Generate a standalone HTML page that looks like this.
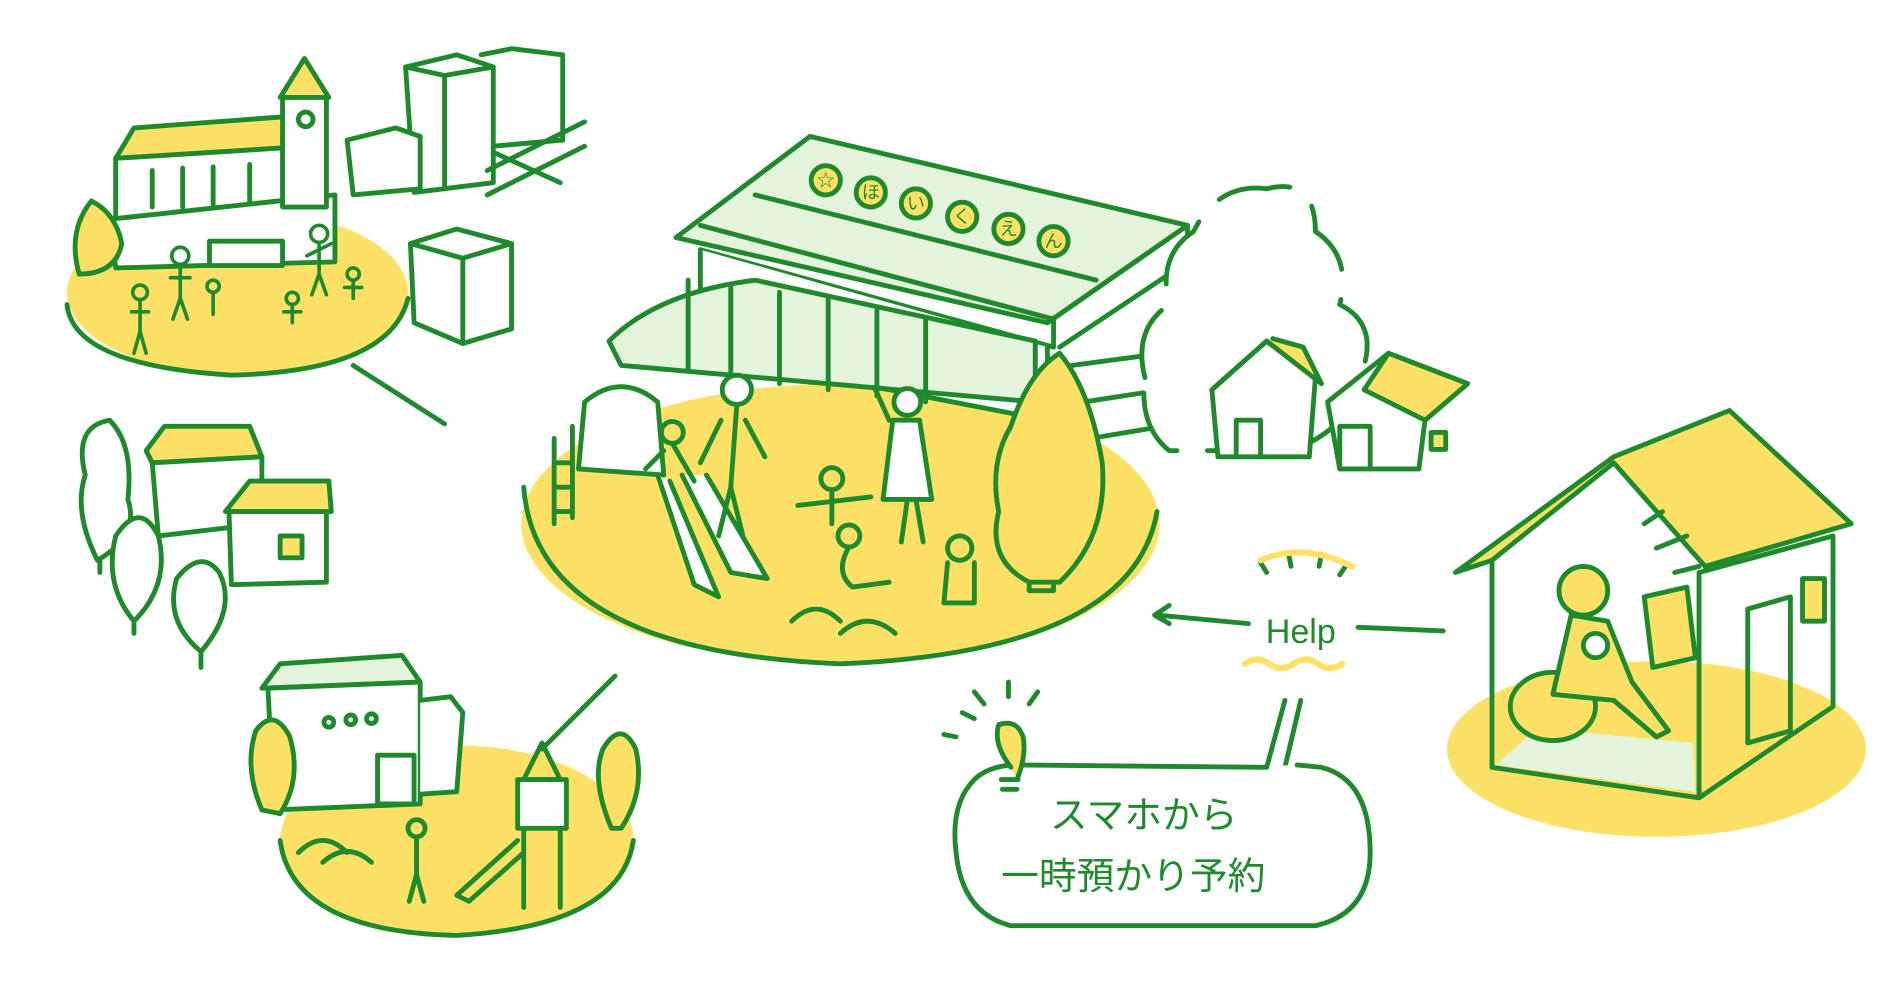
<!DOCTYPE html>
<html><head><meta charset="utf-8"><style>
html,body{margin:0;padding:0;background:#fff;width:1900px;height:1000px;overflow:hidden}
svg{display:block}
text{font-family:"Liberation Sans","Noto Sans CJK JP",sans-serif;fill:#1e8a2c}
</style></head><body>
<svg width="1900" height="1000" viewBox="0 0 1560 821" preserveAspectRatio="none">
<g fill="none" stroke="#1e8a2c" stroke-width="4" stroke-linejoin="round" stroke-linecap="round">
<ellipse cx="195" cy="240" rx="140" ry="68" fill="#fde166" stroke="none"/>
<path d="M55 250 Q60 300 190 308 Q320 305 335 245" />
<ellipse cx="375" cy="690" rx="145" ry="78" fill="#fde166" stroke="none"/>
<path d="M230 690 Q240 765 375 768 Q510 760 520 690"/>
<ellipse cx="690" cy="430" rx="262" ry="115" fill="#fde166" stroke="none"/>
<path d="M430 400 Q440 535 690 545 Q930 535 950 420"/>
<ellipse cx="1360" cy="615" rx="172" ry="72" fill="#fde166" stroke="none"/>

<path d="M95 130 L110 105 L245 95 L255 120 Z" fill="#fde166"/>
<path d="M95 130 L255 120 L255 175 L95 185 Z" fill="#fff"/>
<path d="M125 140 L125 170 M150 138 L150 170 M175 137 L175 168 M205 135 L205 166"/>
<path d="M90 180 L275 160 L275 215 L95 220 Z" fill="#fff"/>
<path d="M230 80 L250 48 L270 80 Z" fill="#fde166"/>
<rect x="232" y="80" width="36" height="90" fill="#fff"/>
<circle cx="251" cy="98" r="6"/>
<rect x="172" y="198" width="60" height="20" fill="#fff"/>
<path d="M333 55 L375 45 L405 55 L405 150 L340 158 Z" fill="#fff"/>
<path d="M333 55 L365 62 L405 55 M365 62 L365 155"/>
<path d="M395 45 L420 40 L462 45 L462 115 L405 120"/>
<path d="M285 115 L325 105 L345 112 L345 155 L290 160 Z" fill="#fff"/>
<path d="M400 140 L480 100 M400 160 L480 120 M405 125 L460 150"/>
<path d="M337 200 L375 188 L420 200 L420 270 L380 282 L340 265 Z" fill="#fff"/>
<path d="M337 200 L380 212 L420 200 M380 212 L380 282"/>
<path d="M65 225 Q55 190 75 165 Q95 175 100 200 Q95 225 65 225 Z" fill="#fde166"/>
<g stroke-width="3">
<circle cx="148" cy="210" r="7"/><path d="M148 217 L148 245 M140 228 L156 228 M148 245 L142 262 M148 245 L154 262"/>
<circle cx="262" cy="192" r="7"/><path d="M262 199 L262 225 M252 210 L272 200 M262 225 L256 242 M262 225 L268 242"/>
<circle cx="115" cy="240" r="6"/><path d="M115 246 L115 272 M108 256 L122 256 M115 272 L110 290 M115 272 L120 290"/>
<circle cx="240" cy="245" r="5"/><path d="M240 250 L240 265 M233 256 L247 256"/>
<circle cx="290" cy="225" r="5"/><path d="M290 230 L290 245 M283 236 L297 236"/>
<circle cx="175" cy="235" r="5"/><path d="M175 240 L175 258"/>
</g>
<path d="M290 300 L365 348"/>

<path d="M120 370 L135 350 L205 350 L215 375 L125 380 Z" fill="#fde166"/>
<path d="M125 380 L215 375 L215 430 L130 440 Z" fill="#fff"/>
<path d="M185 420 L205 395 L270 395 L272 420 Z" fill="#fde166"/>
<path d="M188 420 L268 420 L268 478 L190 480 Z" fill="#fff"/>
<rect x="230" y="440" width="18" height="18" fill="#fde166"/>
<path d="M80 460 Q60 420 70 390 Q60 350 90 345 Q110 365 105 410 Q115 440 80 460 Z M82 460 L82 470" fill="#fff"/>
<path d="M110 510 Q85 480 95 440 Q115 410 130 440 Q140 480 110 510 Z M110 510 L110 520" fill="#fff"/>
<path d="M165 535 Q135 510 145 475 Q165 450 180 470 Q195 500 165 535 Z M165 535 L165 548" fill="#fff"/>

<path d="M215 565 L230 545 L330 538 L345 560 Z" fill="#e3f3dc"/>
<path d="M220 565 L345 560 L345 660 L225 665 Z" fill="#fff"/>
<path d="M345 575 L370 572 L380 585 L375 650 L345 652" fill="#fff"/>
<circle cx="270" cy="593" r="4"/><circle cx="288" cy="591" r="4"/><circle cx="305" cy="590" r="4"/>
<rect x="310" y="620" width="30" height="40"/>
<path d="M215 665 Q200 630 210 600 Q225 580 238 605 Q248 640 230 668 Z" fill="#fde166"/>
<path d="M502 680 Q485 640 495 615 Q510 590 522 615 Q530 650 510 680 Z" fill="#fde166"/>
<path d="M430 640 L445 610 L460 640 Z" fill="#fde166"/>
<rect x="425" y="640" width="40" height="40" fill="#fff"/>
<path d="M430 680 L430 745 M460 680 L460 745 M425 690 L375 735 L385 740 L430 700"/>
<circle cx="342" cy="680" r="7"/><path d="M342 687 L342 718 M342 718 L336 740 M342 718 L348 740"/>
<path d="M245 700 Q265 680 285 700 M265 708 Q285 690 305 708"/>
<path d="M445 615 L505 555"/>

<path d="M555 195 L665 112 L975 185 L860 265 Z" fill="#e3f3dc"/>
<path d="M620 160 L900 230"/>
<path d="M575 185 L865 262 L865 285 L575 205"/>
<path d="M860 265 L975 185 L975 215 L870 285"/>
<path d="M575 205 L575 290 L860 345 L860 285" fill="#fff"/>
<path d="M500 280 Q540 240 620 230 L850 280 L850 330 L510 300 Z" fill="#e3f3dc"/>
<path d="M565 230 L565 305 M600 235 L600 305 M640 240 L640 315 M680 245 L680 320 M720 255 L720 325 M760 262 L760 330"/>
<path d="M880 300 L955 290 M890 330 L955 320 M895 360 L955 350"/>
<g fill="#fde166">
<circle cx="678" cy="148" r="12"/><circle cx="715" cy="158" r="12"/><circle cx="752" cy="167" r="12"/><circle cx="790" cy="178" r="12"/><circle cx="828" cy="188" r="12"/><circle cx="865" cy="198" r="12"/>
</g>
<path d="M480 330 Q510 305 540 330 L545 390 L475 385 Z" fill="#fff"/>
<path d="M455 360 L455 430 M470 350 L470 425 M455 380 L470 380 M455 400 L470 400 M455 420 L470 420"/>
<path d="M540 390 L570 480 L590 490 L550 395 M560 390 L600 470 L630 475 L580 390" fill="#fff"/>
<circle cx="605" cy="320" r="12" fill="#fff"/><path d="M605 332 L600 400 L610 440 M592 345 L575 380 M612 345 L628 375 M600 400 L590 440" fill="none"/>
<circle cx="552" cy="355" r="9"/><path d="M552 364 L570 395 M545 370 L530 385"/>
<circle cx="745" cy="330" r="11" fill="#fff"/><path d="M733 345 L725 410 L765 410 L755 345 Z M745 410 L740 445 M752 410 L758 445 M730 345 L718 318" fill="#fff"/>
<circle cx="683" cy="393" r="9"/><path d="M683 402 L683 430 M655 415 L715 408"/>
<circle cx="697" cy="440" r="9"/><path d="M697 449 Q685 470 700 482 L730 478"/>
<circle cx="788" cy="450" r="10"/><path d="M778 462 L775 495 L800 495 L800 462"/>
<path d="M650 510 Q670 490 690 510 M690 520 Q712 500 735 520"/>
<path d="M845 478 Q810 460 820 420 Q812 380 830 350 Q845 305 870 290 Q895 320 905 380 Q910 440 870 478 Z" fill="#fde166"/>
<path d="M845 478 L845 485 L865 485 L865 478"/>

<path d="M940 310 Q930 270 960 250 Q950 210 980 190 Q1000 150 1040 155 Q1080 145 1080 190 Q1110 210 1100 250 Q1130 265 1120 300 Q1115 350 1060 370 L960 370 Q935 350 940 310 Z" fill="#fff" stroke-dasharray="60 25"/>
<path d="M995 320 L1040 280 L1080 310 L1075 375 L1000 375 Z" fill="#fff"/>
<path d="M995 320 L1040 280 L1085 315 L1070 285 L1045 278" fill="#fde166"/>
<path d="M1015 375 L1015 345 L1035 345 L1035 375"/>
<path d="M1090 330 L1140 290 L1205 315 L1170 345 L1165 385 L1100 385 Z" fill="#fff"/>
<path d="M1140 290 L1205 315 L1170 345 L1120 320 Z" fill="#fde166"/>
<rect x="1175" y="355" width="12" height="14" fill="#fde166"/>
<path d="M1100 385 L1100 350 L1125 350 L1125 385"/>

<path d="M1195 470 L1325 375 L1420 337 L1520 430 L1400 465 L1325 380 L1225 460 Z" fill="#fde166"/>
<path d="M1225 460 L1225 630 L1395 655 L1395 470 M1395 470 L1505 440 L1505 580 L1395 655"/>
<path d="M1228 628 L1262 598 L1390 610 L1392 650 Z" fill="#e3f3dc" stroke="none"/>
<path d="M1435 500 L1470 490 L1470 600 L1435 610 Z"/>
<rect x="1480" y="475" width="18" height="35" fill="#fde166"/>
<ellipse cx="1275" cy="580" rx="35" ry="28" fill="#fde166"/>
<circle cx="1300" cy="485" r="20" fill="#fde166"/>
<path d="M1290 505 L1275 570 L1325 575 L1360 605 L1370 600 L1340 560 L1320 510 Z" fill="#fde166"/>
<circle cx="1310" cy="530" r="10" fill="#fff"/>
<path d="M1350 490 L1385 482 L1392 540 L1357 548 Z" fill="#fde166"/>
<path d="M1350 430 L1365 420 M1360 450 L1385 440 M1375 470 L1395 465"/>

<path d="M1185 518 L1115 515 M1025 512 L950 505 M960 497 L948 505 L960 512"/>
<path d="M1040 470 L1035 462 M1060 465 L1058 455 M1083 465 L1085 455 M1100 472 L1106 463" />
<path d="M1022 545 Q1032 538 1042 545 Q1052 552 1062 545 Q1072 538 1082 545 Q1092 552 1102 545" stroke="#fde166" stroke-width="5"/>
<path d="M1035 460 Q1070 445 1110 465" stroke="#fde166" stroke-width="5"/>
<path d="M1055 575 L1040 630 M1068 575 L1055 630"/>
<path d="M800 640 Q780 660 785 700 Q790 750 830 760 L1080 760 Q1125 750 1125 700 Q1125 640 1085 630 L1065 628 M1040 630 L830 628 Q810 630 800 640" fill="#fff"/>
<path d="M830 630 Q815 610 820 595 Q835 590 840 605 Q843 620 835 640" fill="#fde166"/>
<path d="M822 640 L836 640 M823 648 L835 648"/>
<path d="M800 590 L790 585 M808 578 L800 568 M828 572 L828 560 M845 578 L852 568 M785 605 L775 603"/>
</g>
<g font-size="15" text-anchor="middle">
<text x="678" y="153">☆</text><text x="715" y="163">ほ</text><text x="752" y="172">い</text><text x="790" y="183">く</text><text x="828" y="193">え</text><text x="865" y="203">ん</text>
</g>
<text x="1068" y="528" font-size="28" text-anchor="middle">Help</text>
<text x="862" y="680" font-size="31">スマホから</text>
<text x="822" y="730" font-size="31">一時預かり予約</text>
</svg>
</body></html>
